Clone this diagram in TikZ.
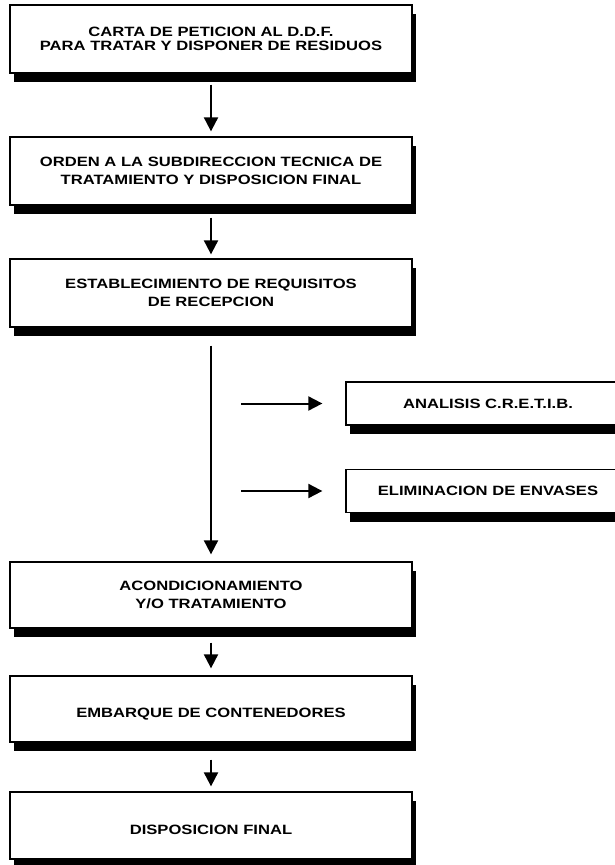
\documentclass[tikz,border=0pt]{standalone}
\usepackage{fontspec}
\setmainfont{Liberation Sans}
\newfontfamily\boxfont[FakeStretch=1.23]{Liberation Sans}
\usetikzlibrary{arrows.meta,shadows}
\tikzset{
  boxbase/.style={draw, line width=1.3pt, fill=white, align=center, inner sep=0pt,
    font=\boxfont\fontsize{13.5}{18}\selectfont\bfseries,
    drop shadow={shadow xshift=4pt, shadow yshift=-9pt, fill=black, opacity=1}},
  mainbox/.style={boxbase, minimum width=402pt, minimum height=68pt},
  tightlines/.style={font=\boxfont\fontsize{13.5}{14}\selectfont\bfseries},
  lowered/.style={execute at begin node={\rule{0pt}{19pt}}},
  sidebox/.style={boxbase, minimum width=284pt, minimum height=43pt,
    drop shadow={shadow xshift=6pt, shadow yshift=-8pt, fill=black, opacity=1}},
  flow/.style={line width=2pt, -{Triangle[length=14pt,width=14pt]}}
}
\begin{document}
\begin{tikzpicture}[x=1pt,y=-1pt]
\useasboundingbox (0,0) rectangle (615,865);
\clip (0,0) rectangle (615,865);
\fill[white] (0,0) rectangle (615,865);
\node[mainbox, tightlines] (b1) at (211,39) {CARTA DE PETICION AL D.D.F.\\PARA TRATAR Y DISPONER DE RESIDUOS};
\node[mainbox, lowered] (b2) at (211,171) {ORDEN A LA SUBDIRECCION TECNICA DE\\TRATAMIENTO Y DISPOSICION FINAL};
\node[mainbox, lowered] (b3) at (211,293) {ESTABLECIMIENTO DE REQUISITOS\\DE RECEPCION};
\node[sidebox] (s1) at (488,403.5) {ANALISIS C.R.E.T.I.B.};
\node[sidebox] (s2) at (488,491) {ELIMINACION DE ENVASES};
\node[mainbox, lowered, minimum height=66pt] (b6) at (211,595) {ACONDICIONAMIENTO\\Y/O TRATAMIENTO};
\node[mainbox, lowered, minimum height=66pt] (b7) at (211,709) {EMBARQUE DE CONTENEDORES};
\node[mainbox, lowered, minimum height=67pt] (b8) at (211,825.5) {DISPOSICION FINAL};
\coordinate (c1) at (241,403.5);
\coordinate (c2) at (241,491);
\draw[flow, shorten <=11pt, shorten >=5pt] (b1.south) -- (b2.north);
\draw[flow, shorten <=12pt, shorten >=4pt] (b2.south) -- (b3.north);
\draw[flow, shorten <=18pt, shorten >=7pt] (b3.south) -- (b6.north);
\draw[flow, shorten <=14pt, shorten >=7pt] (b6.south) -- (b7.north);
\draw[flow, shorten <=17pt, shorten >=5pt] (b7.south) -- (b8.north);
\draw[flow, shorten >=23pt] (c1) -- (c1 -| s1.west);
\draw[flow, shorten >=23pt] (c2) -- (c2 -| s2.west);
\end{tikzpicture}
\end{document}
